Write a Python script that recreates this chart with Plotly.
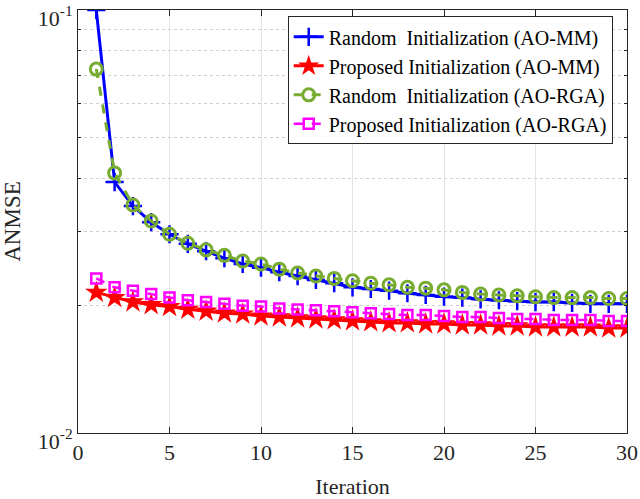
import plotly.graph_objects as go

iterations = list(range(1, 31))

random_mm = [0.1, 0.0392, 0.0344, 0.0315, 0.0295, 0.0280, 0.0269, 0.0259, 0.0251, 0.0246,
             0.0240, 0.0235, 0.0230, 0.0226, 0.0221, 0.0219, 0.0217, 0.0214, 0.0212, 0.0210,
             0.0209, 0.0207, 0.0206, 0.0205, 0.0204, 0.0204, 0.0203, 0.0202, 0.0202, 0.0202]
proposed_mm = [0.0215, 0.0209, 0.0204, 0.0201, 0.0199, 0.0196, 0.0194, 0.0192, 0.0191, 0.0189,
               0.0188, 0.0187, 0.0186, 0.0185, 0.0184, 0.0183, 0.0182, 0.0182, 0.0181, 0.0181,
               0.0180, 0.0180, 0.0179, 0.0179, 0.0178, 0.0178, 0.0178, 0.0178, 0.0177, 0.0177]
random_rga = [0.0725, 0.0412, 0.0346, 0.0317, 0.0295, 0.0281, 0.0271, 0.0263, 0.0255, 0.0251,
              0.0244, 0.0239, 0.0235, 0.0232, 0.0229, 0.0226, 0.0224, 0.0221, 0.0220, 0.0218,
              0.0215, 0.0213, 0.0212, 0.0211, 0.0210, 0.0209, 0.0209, 0.0209, 0.0208, 0.0208]
proposed_rga = [0.0232, 0.0221, 0.0217, 0.0213, 0.0209, 0.0206, 0.0204, 0.0202, 0.0200, 0.0199,
                0.0197, 0.0196, 0.0195, 0.0194, 0.0193, 0.0192, 0.0191, 0.0190, 0.0190, 0.0189,
                0.0188, 0.0188, 0.0187, 0.0186, 0.0186, 0.0185, 0.0185, 0.0185, 0.0184, 0.0184]

x_ticks = [0, 5, 10, 15, 20, 25, 30]
y_ticks = [0.01, 0.1]
y_ticktext = ["10<sup>-2</sup>", "10<sup>-1</sup>"]
y_minor = [0.02, 0.03, 0.04, 0.05, 0.06, 0.07, 0.08, 0.09]

FONT = "Liberation Serif, Times New Roman, serif"

fig = go.Figure()
fig.add_trace(go.Scatter(
    x=iterations, y=random_mm, mode="lines+markers",
    name="Random  Initialization (AO-MM)",
    line=dict(color="#0000FF", width=3),
    marker=dict(symbol="cross-thin-open", size=13, line=dict(color="#0000FF", width=2.5))
))
fig.add_trace(go.Scatter(
    x=iterations, y=proposed_mm, mode="lines+markers",
    name="Proposed Initialization (AO-MM)",
    line=dict(color="#FF0000", width=3),
    marker=dict(symbol="star", size=17, color="#FF0000", line=dict(width=0))
))
fig.add_trace(go.Scatter(
    x=iterations, y=random_rga, mode="lines+markers",
    name="Random  Initialization (AO-RGA)",
    line=dict(color="#77AC30", width=3, dash="dash"),
    marker=dict(symbol="circle-open", size=12, line=dict(color="#77AC30", width=3))
))
fig.add_trace(go.Scatter(
    x=iterations, y=proposed_rga, mode="lines+markers",
    name="Proposed Initialization (AO-RGA)",
    line=dict(color="#FF00FF", width=2.5, dash="dash"),
    marker=dict(symbol="square-open", size=10, line=dict(color="#FF00FF", width=2.5))
))

fig.update_layout(
    width=640, height=499,
    margin=dict(l=78, r=13, t=10, b=66),
    paper_bgcolor="white", plot_bgcolor="white",
    font=dict(family=FONT, size=21, color="#1a1a1a"),
    legend=dict(
        x=0.382, y=0.985, xanchor="left", yanchor="top",
        bgcolor="white", bordercolor="#262626", borderwidth=1,
        font=dict(family=FONT, size=20, color="black"),
        tracegroupgap=0, itemwidth=30,
    ),
    showlegend=True,
)
fig.update_xaxes(
    range=[0, 30], tickvals=x_ticks, ticklabeloverflow="allow", automargin=False,
    showline=True, linecolor="#262626", linewidth=1, mirror="ticks",
    ticks="inside", ticklen=6, tickcolor="#262626",
    showgrid=True, gridcolor="#e3e3e3", gridwidth=1, zeroline=False,
    tickfont=dict(family=FONT, size=22, color="#262626"),
    title=dict(text="Iteration", font=dict(family=FONT, size=22, color="#262626")),
)
fig.update_yaxes(
    type="log", range=[-2, -1], tickvals=y_ticks, ticktext=y_ticktext,
    ticklabeloverflow="allow", automargin=False, ticklabelshift=8,
    showline=True, linecolor="#262626", linewidth=1, mirror="ticks",
    ticks="inside", ticklen=6, tickcolor="#262626",
    showgrid=False, zeroline=False,
    minor=dict(tickvals=y_minor, ticks="inside", ticklen=3, tickcolor="#262626",
               showgrid=True, gridcolor="#cfcfcf", griddash="dot", gridwidth=1),
    tickfont=dict(family=FONT, size=22, color="#262626"),
    title=dict(text="ANMSE", font=dict(family=FONT, size=23, color="#262626")),
)

# page body has a default margin that would push the figure off the window
fig.write_html("out.html", config={"displayModeBar": False},
               post_script="document.body.style.margin='0';")
